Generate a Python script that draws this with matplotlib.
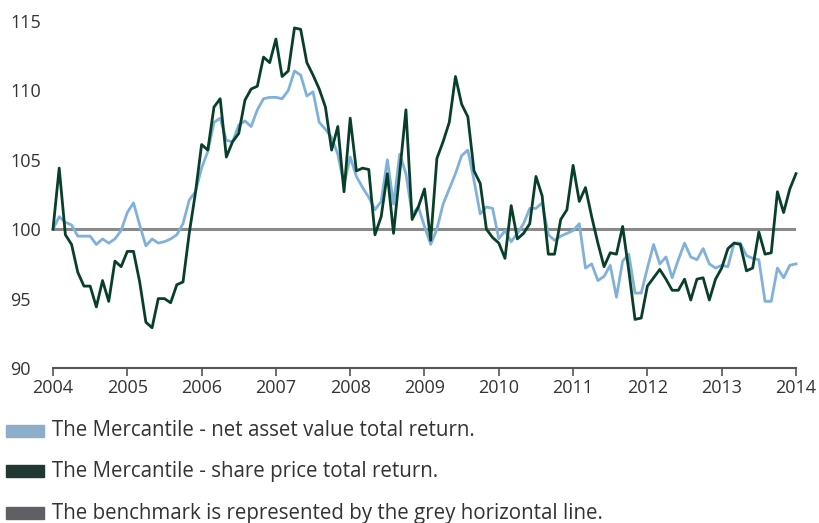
import matplotlib
matplotlib.use("Agg")
import matplotlib.pyplot as plt
import numpy as np
import pandas as pd
from matplotlib.patches import Rectangle

# monthly index values, Jan 2004 .. Jan 2014 (rebased to 100)
nav_total_return = [
    100.0, 100.9, 100.5, 100.3, 99.5, 99.5, 99.5, 98.9, 99.3, 99.0, 99.3, 99.9,
    101.2, 101.9, 100.3, 98.8, 99.3, 99.0, 99.1, 99.3, 99.6, 100.4, 102.1, 102.7,
    104.4, 105.6, 107.7, 108.0, 106.4, 106.3, 107.5, 107.8, 107.4, 108.6, 109.4, 109.5,
    109.5, 109.4, 110.0, 111.4, 111.1, 109.6, 109.9, 107.7, 107.2, 106.6, 105.4, 103.2,
    105.2, 103.8, 103.0, 102.3, 101.4, 102.0, 105.0, 101.8, 105.4, 104.0, 101.1, 101.6,
    100.2, 98.9, 100.0, 101.8, 102.9, 104.0, 105.3, 105.7, 103.5, 101.1, 101.6, 101.5,
    99.3, 99.9, 99.1, 99.7, 100.4, 101.5, 101.5, 101.9, 99.6, 99.2, 99.5, 99.7,
    99.9, 100.4, 97.2, 97.5, 96.3, 96.6, 97.4, 95.1, 97.7, 98.2, 95.4, 95.4,
    97.2, 98.9, 97.5, 98.0, 96.5, 97.8, 99.0, 98.0, 97.8, 98.6, 97.5, 97.2,
    97.4, 97.3, 99.0, 99.0, 98.1, 97.9, 97.8, 94.8, 94.8, 97.2, 96.5, 97.4,
    97.5,
]
share_price_total_return = [
    100.0, 104.4, 99.6, 98.9, 96.9, 95.9, 95.9, 94.4, 96.3, 94.8, 97.7, 97.3,
    98.4, 98.4, 96.2, 93.3, 92.9, 95.0, 95.0, 94.7, 96.0, 96.2, 99.7, 102.6,
    106.1, 105.7, 108.8, 109.4, 105.2, 106.3, 106.9, 109.3, 110.1, 110.3, 112.4, 112.0,
    113.7, 111.0, 111.4, 114.5, 114.4, 112.0, 111.1, 110.1, 108.8, 105.7, 107.4, 102.7,
    108.0, 104.2, 104.4, 104.3, 99.6, 100.9, 104.0, 99.7, 104.1, 108.6, 100.7, 101.6,
    102.9, 99.2, 105.1, 106.3, 107.7, 111.0, 109.0, 108.1, 104.2, 103.3, 100.0, 99.4,
    99.0, 97.9, 101.7, 99.3, 99.7, 100.4, 103.8, 102.4, 98.2, 98.2, 100.7, 101.4,
    104.6, 102.0, 103.0, 100.9, 99.0, 97.3, 98.3, 98.2, 100.2, 97.0, 93.5, 93.6,
    95.9, 96.5, 97.1, 96.4, 95.6, 95.6, 96.4, 94.9, 96.4, 96.5, 94.9, 96.4,
    97.2, 98.6, 99.0, 98.9, 97.0, 97.2, 99.8, 98.2, 98.3, 102.7, 101.2, 102.9,
    104.0,
]
benchmark = 100
years = list(range(2004, 2015))
y_ticks = [90, 95, 100, 105, 110, 115]
legend_labels = [
    "The Mercantile - net asset value total return.",
    "The Mercantile - share price total return.",
    "The benchmark is represented by the grey horizontal line.",
]

months = pd.date_range("2004-01-01", periods=len(nav_total_return), freq="MS")
x = 2004 + np.arange(len(months)) / 12.0

plt.rcParams['font.family'] = ['Open Sans', 'DejaVu Sans']

fig = plt.figure(figsize=(8.19, 5.23), dpi=100)
ax = fig.add_axes([53 / 819, 1 - 368 / 523, 743 / 819, 347 / 523])

ax.axhline(benchmark, color='#8a8a8a', lw=2.2, zorder=1)
ax.plot(x, nav_total_return, color='#80b1dc', lw=2.0, zorder=2, clip_on=False)
ax.plot(x, share_price_total_return, color='#073f28', lw=2.0, zorder=3, clip_on=False)

ax.set_xlim(2004, 2014)
ax.set_ylim(90, 115)
ax.set_xticks(years)
ax.set_yticks(y_ticks)
ax.set_xticklabels([str(y) for y in years], fontsize=13, color='#333333')
ax.set_yticklabels([str(v) for v in y_ticks], fontsize=13, color='#333333', ha='left')

for side in ['top', 'right', 'left']:
    ax.spines[side].set_visible(False)
ax.spines['bottom'].set_color('#555555')
ax.spines['bottom'].set_linewidth(1.5)
ax.tick_params(axis='x', direction='out', length=6, width=1.2, color='#555555', pad=2)
ax.tick_params(axis='y', length=0, pad=31)

# legend drawn below the chart
patch_colors = ['#8daecb', '#213832', '#606064']
row_y = [431, 471, 513]
for label, col, yy in zip(legend_labels, patch_colors, row_y):
    fig.add_artist(Rectangle((6 / 819, 1 - (yy + 6) / 523), 38 / 819, 12 / 523,
                             transform=fig.transFigure, color=col))
    fig.text(52 / 819, 1 - yy / 523, label, fontsize=14.8, color='#333333',
             va='center', ha='left')

fig.savefig("out.png", dpi=100)
